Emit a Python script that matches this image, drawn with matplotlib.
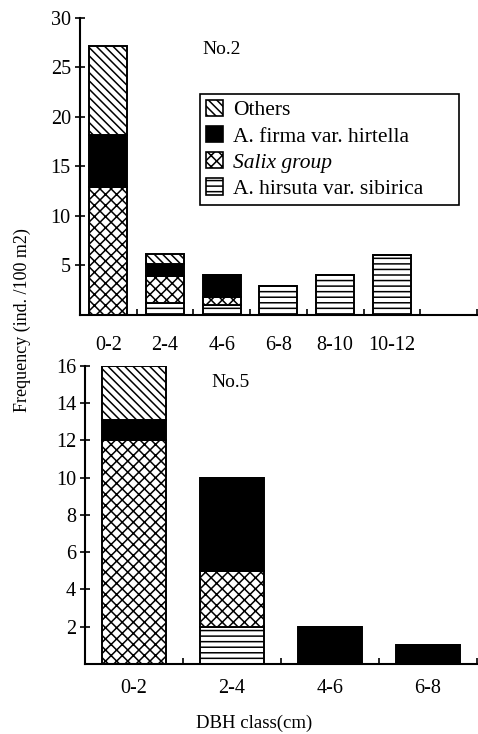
import numpy as np
import matplotlib
matplotlib.use("Agg")
import matplotlib.pyplot as plt
from matplotlib.patches import Patch

plt.rcParams['font.family'] = ['Liberation Serif', 'DejaVu Serif']
plt.rcParams['hatch.linewidth'] = 1.1

# ═══ stand No.2 ═══
classes_2 = ["0-2", "2-4", "4-6", "6-8", "8-10", "10-12"]
hirsuta_2 = [0, 1.2, 1.0, 2.9, 4.0, 6.0]
salix_2 = [12.9, 2.7, 0.8, 0, 0, 0]
firma_2 = [5.3, 1.2, 2.2, 0, 0, 0]
others_2 = [8.9, 1.0, 0, 0, 0, 0]

# ═══ stand No.5 ═══
classes_5 = ["0-2", "2-4", "4-6", "6-8"]
hirsuta_5 = [0, 2, 0, 0]
salix_5 = [12, 3, 0, 0]
firma_5 = [1.1, 5, 2, 1]
others_5 = [2.9, 0, 0, 0]

labels = ["Others", "A. firma var. hirtella", "Salix group", "A. hirsuta var. sibirica"]
styles = {
    "hirsuta": dict(facecolor="white", hatch="---"),
    "salix": dict(facecolor="white", hatch="xxx"),
    "firma": dict(facecolor="black", hatch=None),
    "others": dict(facecolor="white", hatch="\\\\\\\\"),
}


def stack(ax, layers, width):
    x = np.arange(len(layers[0][1])) + 0.5
    bottom = np.zeros(len(x))
    for key, vals in layers:
        vals = np.array(vals, dtype=float)
        ax.bar(x, vals, width, bottom=bottom, edgecolor="black", linewidth=1.4,
               **styles[key])
        bottom += vals
    return x


def style_axes(ax, ncat, ymax, yticks, tick_labels, pad):
    ax.set_xlim(0, ncat)
    ax.set_ylim(0, ymax)
    ax.set_yticks(yticks)
    ax.set_xticks(np.arange(len(tick_labels)) + 0.5)
    ax.set_xticklabels(tick_labels)
    ax.set_xticks(np.arange(1, ncat + 1), minor=True)
    ax.tick_params(axis="x", which="major", length=0, pad=pad, labelsize=14.5)
    ax.tick_params(axis="x", which="minor", direction="in", length=4, width=1.2)
    ax.tick_params(axis="y", direction="inout", length=7, width=1.2, labelsize=14.5, pad=3)
    for s in ("top", "right"):
        ax.spines[s].set_visible(False)
    for s in ("left", "bottom"):
        ax.spines[s].set_linewidth(1.5)


fig = plt.figure(figsize=(4.78, 7.34), dpi=100)

ax1 = fig.add_axes([0.167, 0.571, 0.831, 0.405])
stack(ax1, [("hirsuta", hirsuta_2), ("salix", salix_2),
            ("firma", firma_2), ("others", others_2)], 0.67)
style_axes(ax1, 7, 30, [5, 10, 15, 20, 25, 30], classes_2, 15)
ax1.text(0.358, 0.892, "No.2", transform=ax1.transAxes, ha="center", va="center",
         fontsize=14)

handles = [Patch(edgecolor="black", linewidth=1.2, **styles[k])
           for k in ("others", "firma", "salix", "hirsuta")]
leg = ax1.legend(handles, labels, loc="upper left",
                 bbox_to_anchor=(0.302, 0.37, 0.652, 0.374), mode="expand",
                 borderaxespad=0, fancybox=False, edgecolor="black", framealpha=1,
                 fontsize=15.5, handlelength=0.8, handleheight=0.8, handletextpad=0.45,
                 labelspacing=0.25, borderpad=0.28)
leg.get_frame().set_linewidth(1.2)
leg.get_texts()[2].set_fontstyle("italic")

ax2 = fig.add_axes([0.178, 0.0954, 0.820, 0.406])
stack(ax2, [("hirsuta", hirsuta_5), ("salix", salix_5),
            ("firma", firma_5), ("others", others_5)], 0.66)
style_axes(ax2, 4, 16, [2, 4, 6, 8, 10, 12, 14, 16], classes_5, 11)
ax2.text(0.372, 0.943, "No.5", transform=ax2.transAxes, ha="center", va="center",
         fontsize=14)

fig.text(0.046, 0.564, "Frequency (ind. /100 m2)", rotation=90, ha="center",
         va="center", fontsize=13)
fig.text(0.531, 0.015, "DBH class(cm)", ha="center", va="center", fontsize=13.5)

fig.savefig("out.png", dpi=100, facecolor="white")
